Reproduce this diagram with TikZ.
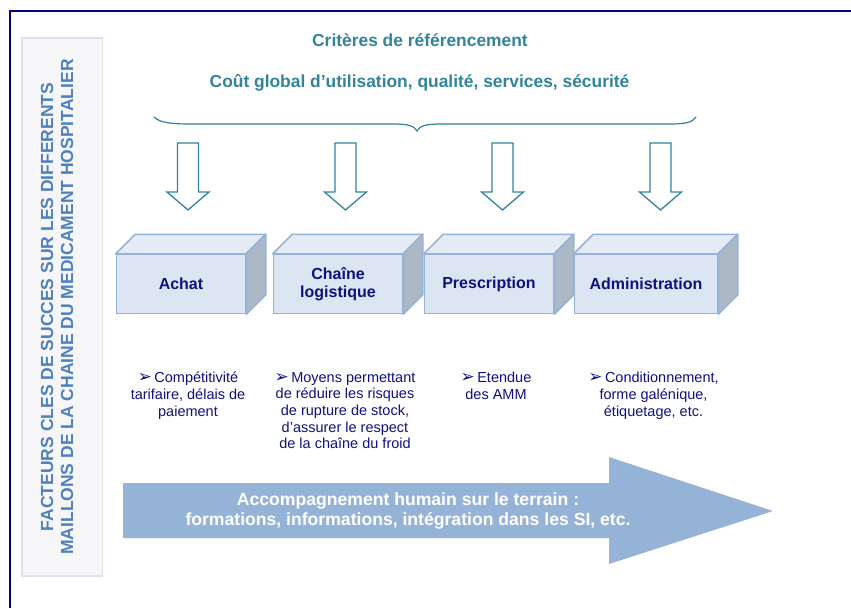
\documentclass[tikz,border=0pt]{standalone}
\usepackage{fontspec}
\setmainfont{Liberation Sans}
\newfontfamily\dingfont{DejaVu Sans}
\usetikzlibrary{calc}

\definecolor{framenavy}{HTML}{00008B}
\definecolor{critteal}{HTML}{31849B}
\definecolor{sideblue}{HTML}{4F81BD}
\definecolor{inknavy}{HTML}{10107F}
\definecolor{boxfront}{HTML}{DCE6F2}
\definecolor{boxtop}{HTML}{E4EBF5}
\definecolor{boxside}{HTML}{ADB8C7}
\definecolor{boxedge}{HTML}{95B3D7}
\definecolor{flowfill}{HTML}{95B3D7}
\definecolor{panelfill}{HTML}{F6F6F8}
\definecolor{paneledge}{HTML}{E2DEEE}

\newcommand\bulletmark{{\dingfont\fontsize{17}{17}\selectfont ➢}\,}

\tikzset{
  linkbox/.style={rectangle, draw=boxedge, fill=boxfront, line width=1.5pt,
    minimum height=59pt, inner sep=0pt, align=center, text=inknavy,
    font=\bfseries\fontsize{16}{18}\selectfont},
  boxtopface/.style={draw=boxedge, fill=boxtop, line width=1.5pt, line join=round},
  boxsideface/.style={draw=boxedge, fill=boxside, line width=1.5pt, line join=round},
  desc/.style={align=center, text=inknavy, inner sep=0pt, anchor=north,
    font=\fontsize{14.5}{16.7}\selectfont},
  crit/.style={text=critteal, inner sep=0pt, anchor=base,
    font=\bfseries\fontsize{17.4}{20}\selectfont},
  hollowdown/.pic={
    \draw[critteal, fill=white, line width=1.3pt, line join=miter]
      (-10.5,0) -- (-10.5,49) -- (-21,49) -- (0,67) -- (21,49)
      -- (10.5,49) -- (10.5,0) -- cycle;
  }
}

\begin{document}
\begin{tikzpicture}[x=1pt,y=-1pt]
\useasboundingbox (0,0) rectangle (851,608);
\fill[white] (0,0) rectangle (851,608);

% outer frame (top and left rules)
\draw[framenavy, line width=2.2pt] (10,608) -- (10,11) -- (851,11);

% side panel with the vertical caption
\draw[fill=panelfill, draw=paneledge, line width=1.5pt] (22,38) rectangle (102.5,576);
\node[rotate=90, align=center, text=sideblue, inner sep=0pt,
      font=\bfseries\fontsize{17.5}{20}\selectfont] (caption) at (57,307)
  {FACTEURS CLES DE SUCCES SUR LES DIFFERENTS\\
   MAILLONS DE LA CHAINE DU MEDICAMENT HOSPITALIER};

% criteria headings
\node[crit] (critere) at (420,46) {Critères de référencement};
\node[crit] (cout) at (419.5,87) {Coût global d’utilisation, qualité, services, sécurité};

% curly brace under the criteria
\draw[critteal, line width=1.2pt, line cap=round]
  (154,117) .. controls (160,123) and (172,124) .. (192,124)
  -- (393,124) .. controls (409,124) and (414,126) .. (417,131)
  .. controls (420,126) and (425,124) .. (441,124)
  -- (668,124) .. controls (688,124) and (692,122) .. (696,117);

% hollow arrows down to each link
\pic at (188,143) {hollowdown};
\pic at (345.5,143) {hollowdown};
\pic at (502.5,143) {hollowdown};
\pic at (660.5,143) {hollowdown};

% the four links of the chain, drawn as blocks
\foreach \nm/\cx/\w/\txt in {achat/181/129/Achat,
                             logistique/338/129/{Chaîne\\logistique},
                             prescription/489/129/Prescription,
                             administration/646/143/Administration}{
  \node[linkbox, minimum width=\w pt] (\nm) at (\cx,284) {\txt};
  \draw[boxtopface] (\nm.north west) -- ++(19.5,-19.5)
     -- ($(\nm.north east)+(19.5,-19.5)$) -- (\nm.north east) -- cycle;
  \draw[boxsideface] (\nm.north east) -- ++(19.5,-19.5)
     -- ($(\nm.south east)+(19.5,-19.5)$) -- (\nm.south east) -- cycle;
}

% key success factors of each link
\node[desc] (dachat) at (188,372)
  {\bulletmark Compétitivité\\tarifaire, délais de\\paiement};
\node[desc] (dlogistique) at (345,372)
  {\bulletmark Moyens permettant\\de réduire les risques\\de rupture de stock,\\d’assurer le respect\\de la chaîne du froid};
\node[desc] (dprescription) at (496,372)
  {\bulletmark Etendue\\des AMM};
\node[desc] (dadministration) at (653.5,372)
  {\bulletmark Conditionnement,\\forme galénique,\\étiquetage, etc.};

% support arrow along the whole chain
\fill[flowfill] (123,483) -- (609,483) -- (609,457) -- (773,511)
  -- (609,564) -- (609,538) -- (123,538) -- cycle;
\node[align=center, text=white, inner sep=0pt,
      font=\bfseries\fontsize{17.6}{19.5}\selectfont] (support) at (408,511)
  {Accompagnement humain sur le terrain :\\
   formations, informations, intégration dans les SI, etc.};
\end{tikzpicture}
\end{document}
